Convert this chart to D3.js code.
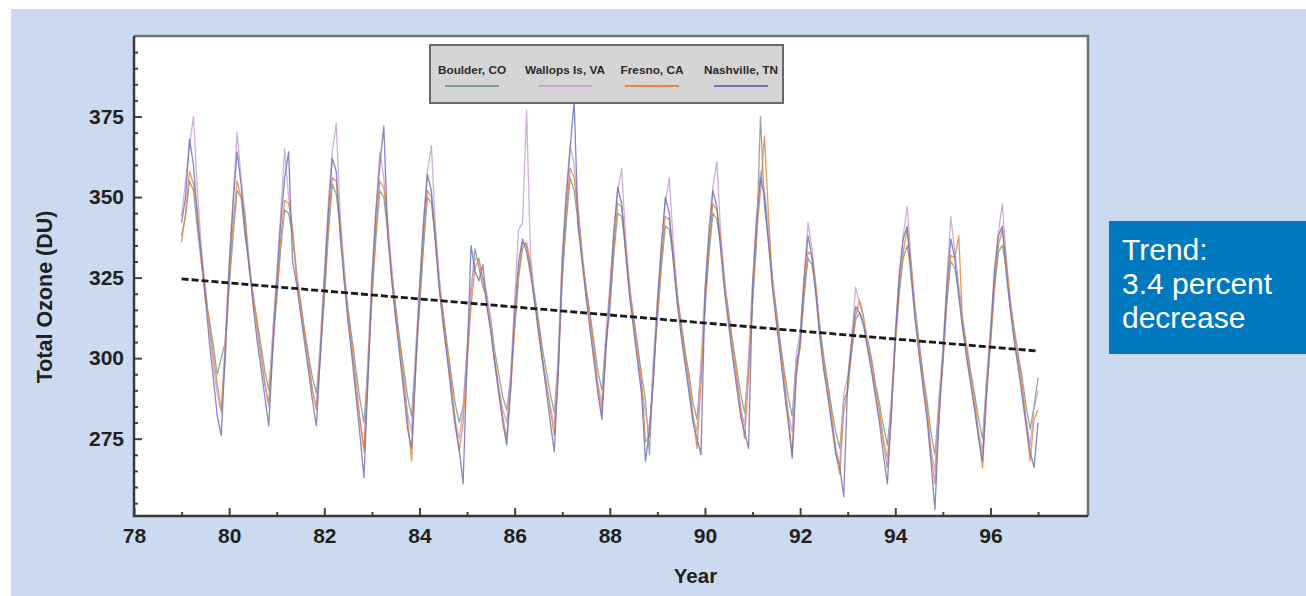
<!DOCTYPE html>
<html>
<head>
<meta charset="utf-8">
<script src="https://cdn.jsdelivr.net/npm/d3@7"></script>
<style>
  html, body { margin: 0; padding: 0; background: #fff; }
  svg { display: block; font-family: "Liberation Sans", Arial, Helvetica, sans-serif; }
</style>
</head>
<body>
<div id="ozone-chart"></div>
<script>
// Monthly total ozone (DU), Jan 1979 .. Jan 1997, one row per year
const startYear = 79;

const boulder = [
  338, 344, 355, 352, 340, 330, 318, 312, 304, 295, 300, 305,
  322, 338, 352, 350, 338, 330, 320, 312, 304, 296, 290, 306,
  318, 334, 346, 345, 338, 326, 317, 309, 301, 294, 289, 303,
  318, 338, 354, 351, 340, 327, 315, 306, 296, 287, 280, 298,
  318, 337, 352, 350, 339, 327, 316, 306, 297, 288, 282, 300,
  315, 334, 350, 348, 337, 324, 314, 304, 295, 286, 280, 285,
  302, 320, 334, 328, 322, 319, 312, 302, 295, 288, 284, 294,
  310, 326, 336, 335, 328, 320, 312, 303, 296, 289, 283, 299,
  324, 342, 356, 352, 342, 332, 322, 314, 305, 296, 290, 306,
  315, 332, 345, 344, 334, 322, 313, 304, 295, 287, 270, 298,
  312, 328, 341, 340, 331, 320, 311, 302, 295, 286, 281, 297,
  315, 332, 345, 343, 335, 323, 314, 305, 297, 289, 283, 298,
  317, 336, 375, 347, 337, 325, 315, 305, 296, 288, 282, 299,
  303, 319, 331, 329, 321, 310, 300, 292, 284, 277, 272, 287,
  290, 302, 312, 314, 311, 306, 300, 292, 286, 279, 273, 286,
  304, 320, 331, 335, 327, 316, 305, 295, 287, 277, 270, 286,
  298, 317, 330, 328, 321, 312, 304, 296, 289, 281, 275, 292,
  304, 321, 333, 335, 328, 318, 309, 301, 294, 285, 278, 285,
  294
];

const wallops = [
  344, 355, 366, 375, 352, 334, 322, 309, 298, 289, 283, 306,
  330, 350, 370, 356, 345, 331, 318, 309, 300, 292, 285, 309,
  326, 345, 365, 350, 339, 327, 315, 307, 298, 290, 285, 306,
  326, 348, 364, 373, 345, 328, 312, 302, 290, 280, 272, 300,
  326, 346, 364, 356, 342, 328, 313, 303, 293, 283, 277, 302,
  322, 343, 358, 366, 341, 325, 311, 301, 291, 281, 275, 284,
  303, 322, 331, 330, 325, 320, 311, 300, 291, 284, 280, 295,
  318, 340, 342, 377, 332, 320, 309, 300, 292, 285, 279, 302,
  332, 352, 366, 360, 347, 334, 320, 311, 301, 292, 286, 308,
  322, 340, 352, 359, 337, 323, 310, 301, 291, 283, 277, 300,
  318, 336, 348, 356, 336, 321, 308, 299, 291, 282, 277, 299,
  322, 340, 353, 361, 338, 324, 311, 302, 293, 285, 279, 301,
  324, 344, 358, 352, 341, 326, 312, 302, 292, 283, 277, 301,
  308, 326, 342, 334, 322, 309, 297, 289, 280, 272, 267, 289,
  294, 306, 322, 317, 312, 305, 297, 289, 282, 275, 269, 287,
  308, 327, 338, 347, 330, 315, 302, 292, 283, 272, 265, 288,
  303, 324, 344, 333, 323, 311, 301, 293, 285, 277, 271, 294,
  309, 328, 339, 348, 331, 318, 306, 298, 290, 281, 273, 284,
  290
];

const fresno = [
  336, 345, 358, 354, 346, 329, 321, 311, 301, 292, 284, 300,
  324, 342, 355, 350, 344, 328, 320, 311, 302, 292, 286, 302,
  320, 337, 349, 348, 340, 325, 318, 308, 300, 290, 284, 300,
  320, 341, 356, 355, 342, 325, 314, 304, 293, 281, 271, 294,
  320, 340, 355, 353, 341, 325, 315, 304, 294, 281, 268, 295,
  317, 337, 352, 350, 339, 322, 313, 303, 293, 280, 271, 280,
  298, 316, 328, 331, 324, 317, 309, 299, 290, 282, 275, 290,
  309, 325, 334, 336, 329, 317, 311, 300, 292, 284, 276, 295,
  326, 345, 359, 356, 345, 331, 322, 313, 303, 291, 283, 303,
  316, 334, 348, 347, 335, 320, 312, 303, 293, 274, 276, 294,
  313, 330, 344, 343, 333, 318, 310, 301, 293, 281, 272, 292,
  316, 334, 348, 346, 337, 321, 313, 304, 295, 284, 275, 294,
  318, 338, 352, 369, 345, 323, 314, 304, 294, 282, 270, 294,
  304, 321, 333, 332, 322, 307, 299, 291, 282, 271, 264, 283,
  291, 303, 313, 318, 313, 304, 299, 291, 284, 274, 266, 282,
  305, 322, 333, 340, 329, 313, 304, 294, 285, 270, 261, 282,
  299, 319, 332, 331, 338, 310, 303, 295, 287, 276, 266, 288,
  305, 323, 335, 340, 330, 316, 308, 300, 292, 280, 268, 281,
  284
];

const nashville = [
  342, 350, 368, 360, 343, 332, 319, 305, 294, 282, 276, 301,
  328, 348, 364, 354, 340, 329, 317, 306, 297, 288, 279, 303,
  324, 342, 356, 364, 330, 323, 314, 305, 296, 287, 279, 301,
  324, 345, 362, 358, 338, 324, 311, 300, 288, 276, 263, 293,
  324, 345, 360, 372, 338, 324, 312, 301, 290, 278, 272, 296,
  321, 341, 357, 352, 336, 321, 310, 300, 289, 279, 272, 261,
  299, 335, 327, 324, 329, 316, 308, 298, 289, 280, 273, 291,
  314, 330, 337, 333, 326, 318, 308, 299, 290, 280, 271, 296,
  330, 349, 365, 380, 341, 330, 319, 309, 299, 289, 281, 302,
  320, 338, 353, 348, 332, 319, 309, 299, 289, 268, 278, 293,
  317, 334, 350, 345, 330, 317, 307, 298, 289, 280, 275, 270,
  320, 338, 352, 347, 333, 320, 310, 300, 291, 282, 277, 272,
  322, 342, 356, 350, 336, 322, 311, 301, 290, 280, 269, 295,
  306, 324, 338, 331, 319, 306, 296, 288, 279, 270, 266, 257,
  293, 305, 316, 314, 310, 303, 296, 288, 280, 270, 261, 283,
  307, 325, 337, 341, 325, 312, 301, 291, 281, 268, 253, 280,
  301, 322, 337, 331, 319, 309, 300, 292, 284, 275, 268, 289,
  307, 326, 338, 341, 326, 315, 305, 297, 288, 279, 271, 266,
  280
];

const stationNames = ["Boulder, CO", "Wallops Is, VA", "Fresno, CA", "Nashville, TN"];
const stationColours = ["#7f9a88", "#c6a2cf", "#e5873f", "#6e72b9"];

// linear trend, end points
const trendYears = [79, 97];
const trendValues = [324.6, 302.2];

const xTicks = [78, 80, 82, 84, 86, 88, 90, 92, 94, 96];
const yTicks = [275, 300, 325, 350, 375];

const trendNote = ["Trend:", "3.4 percent", "decrease"];

const drawOzoneChart = () => {
    const width = 1306, height = 596;
    const margin = {top: 36, left: 134, right: 218, bottom: 80};
    const innerWidth = width - margin.left - margin.right;
    const innerHeight = height - margin.top - margin.bottom;

    const svg = d3.select("#ozone-chart")
        .append("svg")
            .attr("width", width)
            .attr("height", height)
            .attr("viewBox", `0, 0, ${width}, ${height}`);

    // light blue panel
    svg.append("rect")
        .attr("x", 11).attr("y", 9)
        .attr("width", width - 11).attr("height", height - 9)
        .attr("fill", "#cbdaf0");

    const innerChart = svg.append("g")
        .attr("transform", `translate(${margin.left}, ${margin.top})`);

    const xScale = d3.scaleLinear().domain([78, 98.05]).range([0, innerWidth]);
    const yScale = d3.scaleLinear().domain([251, 400]).range([innerHeight, 0]);

    innerChart.append("rect")
        .attr("width", innerWidth).attr("height", innerHeight)
        .attr("fill", "#ffffff");

    // series
    const series = [boulder, wallops, fresno, nashville];
    const line = d3.line()
        .x((d, i) => xScale(startYear + i / 12))
        .y(d => yScale(d));

    series.forEach((values, k) => {
        innerChart.append("path")
            .datum(values)
            .attr("fill", "none")
            .attr("stroke", stationColours[k])
            .attr("stroke-width", 1.3)
            .attr("stroke-opacity", 0.85)
            .attr("stroke-linejoin", "round")
            .attr("d", line);
    });

    // trend line
    innerChart.append("path")
        .datum(trendYears.map((y, i) => [y, trendValues[i]]))
        .attr("fill", "none")
        .attr("stroke", "#1a1a1a")
        .attr("stroke-width", 2.8)
        .attr("stroke-dasharray", "7,3")
        .attr("d", d3.line().x(d => xScale(d[0])).y(d => yScale(d[1])));

    // frame: top and right grey
    innerChart.append("path")
        .attr("d", `M0,0 H${innerWidth} V${innerHeight}`)
        .attr("fill", "none")
        .attr("stroke", "#707070")
        .attr("stroke-width", 2.5);

    // axes with inward ticks
    const minorY = d3.range(255, 400, 5).filter(v => v % 25 !== 0);
    const minorX = d3.range(79, 98, 2);

    const yMinor = innerChart.append("g").call(
        d3.axisRight(yScale).tickValues(minorY).tickSize(4).tickFormat(""));
    const yMajor = innerChart.append("g").call(
        d3.axisRight(yScale).tickValues(yTicks).tickSize(8).tickFormat(""));
    const yLabels = innerChart.append("g").call(
        d3.axisLeft(yScale).tickValues(yTicks).tickSize(0).tickPadding(10));

    const xMinor = innerChart.append("g")
        .attr("transform", `translate(0, ${innerHeight})`)
        .call(d3.axisTop(xScale).tickValues(minorX).tickSize(4).tickFormat(""));
    const xMajor = innerChart.append("g")
        .attr("transform", `translate(0, ${innerHeight})`)
        .call(d3.axisTop(xScale).tickValues(xTicks).tickSize(8).tickFormat(""));
    const xLabels = innerChart.append("g")
        .attr("transform", `translate(0, ${innerHeight})`)
        .call(d3.axisBottom(xScale).tickValues(xTicks).tickSize(0).tickPadding(12));

    [yMinor, yMajor, xMinor, xMajor].forEach(g => {
        g.select(".domain").remove();
        g.selectAll(".tick line").attr("stroke", "#444").attr("stroke-width", 2);
    });
    [yLabels, xLabels].forEach(g => {
        g.select(".domain").remove();
        g.selectAll(".tick text")
            .attr("fill", "#231f20")
            .style("font-size", "21px")
            .style("font-weight", "bold");
    });

    // left and bottom axis lines
    innerChart.append("path")
        .attr("d", `M0,0 V${innerHeight} H${innerWidth}`)
        .attr("fill", "none")
        .attr("stroke", "#3a3a3a")
        .attr("stroke-width", 2.5);

    // axis titles
    svg.append("text")
        .attr("x", margin.left + xScale(89.8))
        .attr("y", 583)
        .attr("text-anchor", "middle")
        .attr("fill", "#231f20")
        .style("font-size", "20.5px")
        .style("font-weight", "bold")
        .text("Year");

    svg.append("text")
        .attr("transform", `translate(52, ${margin.top + yScale(319)}) rotate(-90)`)
        .attr("text-anchor", "middle")
        .attr("fill", "#231f20")
        .style("font-size", "21.5px")
        .style("font-weight", "bold")
        .text("Total Ozone (DU)");

    // legend
    const legend = svg.append("g").attr("transform", "translate(430, 45)");
    legend.append("rect")
        .attr("width", 353).attr("height", 58)
        .attr("fill", "#d5d5d5")
        .attr("stroke", "#686868")
        .attr("stroke-width", 2);
    const legendX = [42, 135, 222, 311];
    stationNames.forEach((name, k) => {
        legend.append("text")
            .attr("x", legendX[k]).attr("y", 29)
            .attr("text-anchor", "middle")
            .attr("fill", "#2a2a2a")
            .style("font-size", "11.8px")
            .style("font-weight", "bold")
            .text(name);
        legend.append("line")
            .attr("x1", legendX[k] - 27).attr("x2", legendX[k] + 27)
            .attr("y1", 41).attr("y2", 41)
            .attr("stroke", stationColours[k])
            .attr("stroke-width", 2.2);
    });

    // trend note box
    const note = svg.append("g").attr("transform", "translate(1109, 221)");
    note.append("rect")
        .attr("width", 197).attr("height", 133)
        .attr("fill", "#0079c1");
    note.selectAll("text")
        .data(trendNote)
        .join("text")
            .attr("x", 13)
            .attr("y", (d, i) => 39 + i * 34)
            .attr("fill", "#ffffff")
            .style("font-size", "30px")
            .text(d => d);
};

drawOzoneChart();
</script>
</body>
</html>
